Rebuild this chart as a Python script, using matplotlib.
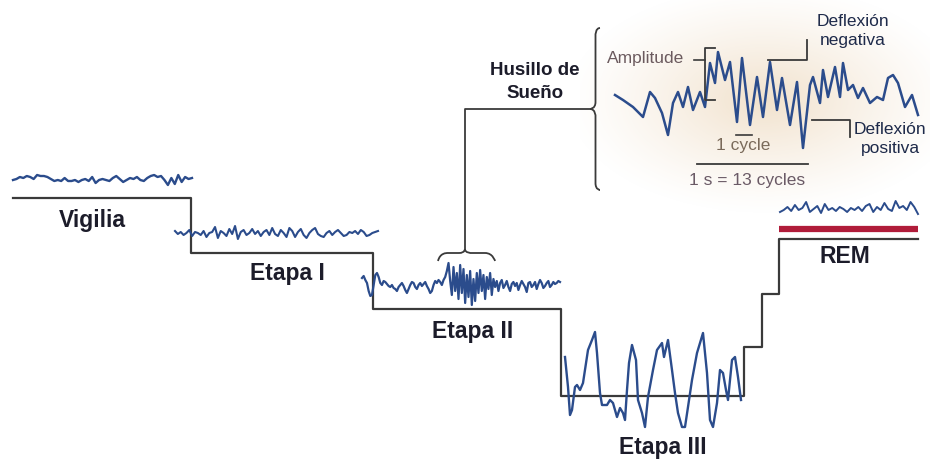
import matplotlib

matplotlib.use("Agg")

import matplotlib.pyplot as plt
import numpy as np
from matplotlib.path import Path
from matplotlib.patches import PathPatch

# Hypnogram: stage boundaries (x) and level (y) for each segment
stage_x = [13, 191, 373, 561, 744, 762, 779, 918]
stage_y = [198, 253, 309, 396, 347, 294, 239]

# EEG traces, offsets above each baseline
vigilia_eeg = [0, 1, 3, 2, 4, 3, 1, 5, 4, 4, 3, 1, -1, 0, -1, 2, -1, -1, 0, -2, 0, 1,
               -1, 3, -3, 0, 1, 0, -1, 2, 4, 1, -2, 0, 2, 1, 3, 0, -1, 2, 4, 5, 3, 4,
               0, -5, 2, -4, 5, -2, 3, 1, 2]
etapa1_eeg = [2, -1, 1, -2, 0, 3, -3, 1, 0, -2, 2, -4, 0, 1, 6, -5, 2, 0, -3, 4, -1,
              7, -6, 1, 3, -2, 0, 4, -1, 2, -3, 1, 3, -2, 5, -1, -3, 3, 0, -4, 5, 2,
              -4, 1, 4, -2, -5, 0, 3, 5, -1, -3, -4, 0, 2, -2, 1, 3, 0, -3, -2, 1, 0,
              2, -1, 3, 1, -3, -2, 0, 1, 2]
etapa2_eeg = [7, 9, 5, 2, -6, -11, -10, 0, 10, 12, 8,
              2, 0, 4, 3, 1, -1, -2, 0, -3, -4, -6, -2, 0, 2, -1, -5, -8, -4, 0, 3,
              2, -2, -4, 0, 2, -1, 1, 3, -1, -4, -8, -6, 0, 4, 2, 5, 3, 0, 5, 8,
              14, 22, 4, -10, 18, -6, 12, -14, 20, -8, 16, -18, 10, -12, 14, -20, 6,
              -16, 12, -8, 15, -6, 10, -14, 8, -4, 12, -10, 6, -2,
              4, -6, 2, 5, -3, 0, 4, -2, -6, 1, 3, -1, 2, -5, 0, 4, 1, -2, -7, 2, 3,
              -2, 0, 3, -4, 1, 5, 2, -3, -1, 2, 4, -2, 0, 3, 1, 2, 4, 3]
etapa3_t = [565, 568, 570, 572, 575, 577, 580, 583, 588, 592, 595, 597, 600, 602, 607,
            610, 613, 617, 620, 623, 625, 627, 629, 632, 636, 638, 642, 645, 648, 653,
            657, 662, 664, 668, 672, 675, 678, 682, 685, 688, 692, 697, 703, 707, 710,
            713, 717, 720, 723, 726, 728, 732, 735, 738, 741]
etapa3_eeg = [39, 9, -19, -14, 9, 11, 6, 13, 46, 56, 64, 43, 3, -9, -9, -4, -7, -21,
              -12, -17, -24, 6, 33, 51, 36, -4, -17, -31, -1, 26, 46, 53, 39, 56, 26, 3,
              -17, -31, -31, -11, 16, 43, 63, 23, -24, -31, -7, 26, 23, 6, -4, 36, 39,
              19, -4]
rem_eeg = [-2, 0, 3, -1, 5, 0, 2, 8, -2, 1, 4, -3, 6, 0, 2, -1, 3, 1, -2, 2, 0, 3, -1,
           4, 6, -2, 3, 0, 7, 1, -1, 9, 2, 4, 0, 8, 3, -4]
spindle_t = [615, 623, 633, 643, 650, 655, 662, 668, 673, 678, 683, 688, 693, 700, 705,
             710, 715, 718, 725, 730, 737, 742, 750, 757, 763, 770, 777, 782, 790, 797,
             803, 810, 813, 820, 823, 828, 835, 840, 843, 848, 853, 858, 863, 870, 877,
             883, 888, 893, 898, 905, 912, 918]
spindle_eeg = [5, 0, -7, -17, 8, 2, -13, -35, -3, 8, -7, 13, -10, 8, -7, 37, 17, 48,
               20, 38, -22, 42, -25, 23, -17, 38, -10, 22, -25, 18, -48, 15, 23, -3, 30,
               3, 33, 3, 37, 10, 15, 2, 12, -3, 3, 0, 22, 25, 17, -7, 5, -15]

stage_labels = ["Vigilia", "Etapa I", "Etapa II", "Etapa III", "REM"]

EEG = "#2b4c8c"
LINE = "#3a3a3a"
TEXT = "#1c1c2a"


def brace_v(ax, x_tip, y0, y1, y_tip, w=10):
    # vertical curly brace opening right, tip pointing left
    xm = x_tip + w * 0.55
    xe = x_tip + w
    r = 7
    verts = [(xe, y0), (xm, y0), (xm, y0 + r), (xm, y0 + r),
             (xm, y_tip - r), (xm, y_tip), (x_tip, y_tip), (x_tip, y_tip),
             (xm, y_tip), (xm, y_tip + r), (xm, y_tip + r),
             (xm, y1 - r), (xm, y1), (xe, y1), (xe, y1)]
    codes = [Path.MOVETO, Path.CURVE4, Path.CURVE4, Path.CURVE4,
             Path.LINETO, Path.CURVE4, Path.CURVE4, Path.CURVE4,
             Path.CURVE4, Path.CURVE4, Path.CURVE4,
             Path.LINETO, Path.CURVE4, Path.CURVE4, Path.CURVE4]
    ax.add_patch(PathPatch(Path(verts, codes), fc="none", ec=LINE, lw=1.3))


def brace_h(ax, x0, x1, x_tip, y_end, y_tip):
    # horizontal curly brace opening down, tip pointing up
    ym = y_tip + 4
    verts = [(x0, y_end), (x0 + 2, ym), (x0 + 8, ym), (x0 + 10, ym),
             (x_tip - 6, ym), (x_tip, ym), (x_tip, y_tip), (x_tip, y_tip),
             (x_tip, ym), (x_tip + 6, ym), (x_tip + 6, ym),
             (x1 - 10, ym), (x1 - 2, ym), (x1, y_end), (x1, y_end)]
    codes = [Path.MOVETO, Path.CURVE4, Path.CURVE4, Path.CURVE4,
             Path.LINETO, Path.CURVE4, Path.CURVE4, Path.CURVE4,
             Path.CURVE4, Path.CURVE4, Path.CURVE4,
             Path.LINETO, Path.CURVE4, Path.CURVE4, Path.CURVE4]
    ax.add_patch(PathPatch(Path(verts, codes), fc="none", ec=LINE, lw=1.3))


def trace(ax, x0, x1, base, vals, lw=1.7):
    v = np.asarray(vals, dtype=float)
    ax.plot(np.linspace(x0, x1, len(v)), base - v, color=EEG, lw=lw,
            solid_joinstyle="round")


fig = plt.figure(figsize=(9.3, 4.61), dpi=100)
ax = fig.add_axes([0, 0, 1, 1])
ax.set_xlim(0, 930)
ax.set_ylim(461, 0)
ax.axis("off")

# warm glow behind the spindle close-up
gx, gy = np.meshgrid(np.linspace(580, 930, 200), np.linspace(0, 215, 120))
rr = np.sqrt(((gx - 765) / 200) ** 2 + ((gy - 100) / 115) ** 2)
glow = np.zeros(gx.shape + (4,))
glow[..., 0], glow[..., 1], glow[..., 2] = 0.93, 0.85, 0.74
glow[..., 3] = np.clip(1 - rr, 0, 1) ** 1.2 * 0.75
ax.imshow(glow, extent=[580, 930, 215, 0], aspect="auto", zorder=0,
          interpolation="bilinear")

# hypnogram steps
xs, ys = [], []
for i, y in enumerate(stage_y):
    xs += [stage_x[i], stage_x[i + 1]]
    ys += [y, y]
ax.plot(xs, ys, color=LINE, lw=1.6, zorder=2)
ax.plot([779, 918], [229, 229], color="#b01c3a", lw=4.5, solid_capstyle="butt")

# EEG traces per stage
trace(ax, 13, 192, 180, vigilia_eeg)
trace(ax, 175, 378, 233, etapa1_eeg, lw=1.5)
trace(ax, 362, 560, 285, etapa2_eeg, lw=1.6)
ax.plot(etapa3_t, 396 - np.array(etapa3_eeg), color=EEG, lw=1.7)
trace(ax, 780, 918, 210, rem_eeg, lw=1.4)
ax.plot(spindle_t, 100 - np.array(spindle_eeg), color=EEG, lw=1.8)

# stage labels
lab_pos = [(92, 220), (287, 273), (473, 331), (663, 447), (845, 256)]
for s, (x, y) in zip(stage_labels, lab_pos):
    ax.text(x, y, s, ha="center", va="center", fontsize=16.5, fontweight="bold",
            color=TEXT, family="Liberation Sans")

# spindle callout
brace_h(ax, 438, 495, 465, 261, 249)
ax.plot([465, 465, 590], [249, 109, 109], color=LINE, lw=1.3)
brace_v(ax, 590, 28, 190, 109)
ax.text(535, 82, "Husillo de\nSueño", ha="center", va="center", fontsize=13.5,
        fontweight="bold", color=TEXT, family="Liberation Sans", linespacing=1.4)

# close-up annotations
small = dict(family="Liberation Sans", fontsize=12.5)
ax.text(607, 58, "Amplitude", ha="left", va="center", color="#6b5a5e", **small)
ax.plot([694, 705], [60, 60], color=LINE, lw=1.2)
ax.plot([715, 705, 705, 715], [48, 48, 100, 100], color=LINE, lw=1.3)

ax.plot([768, 807, 807], [60, 60, 40], color=LINE, lw=1.3)
ax.text(853, 31, "Deflexión\nnegativa", ha="center", va="center", color="#1e2a4a",
        linespacing=1.3, **small)
ax.plot([812, 850, 850], [120, 120, 137], color=LINE, lw=1.3)
ax.text(890, 139, "Deflexión\npositiva", ha="center", va="center", color="#1e2a4a",
        linespacing=1.3, **small)

ax.text(743, 145, "1 cycle", ha="center", va="center", color="#7a6a5a", **small)
ax.plot([736, 752], [135, 135], color=LINE, lw=1.2)
ax.plot([697, 808], [164, 164], color=LINE, lw=1.3)
ax.text(747, 180, "1 s = 13 cycles", ha="center", va="center", color="#6a5a66",
        **small)

fig.savefig("out.png", dpi=100)
